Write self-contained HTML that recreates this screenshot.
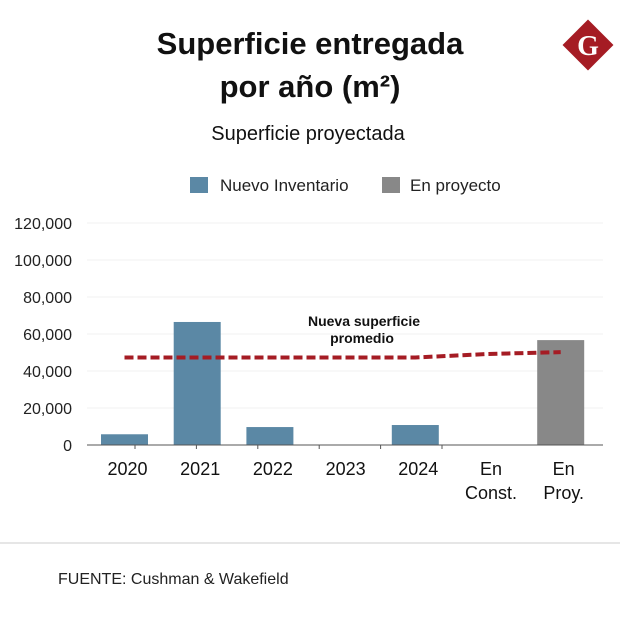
<!DOCTYPE html>
<html><head><meta charset="utf-8"><style>
body{margin:0;background:#fff;width:620px;height:616px;overflow:hidden;font-family:"Liberation Sans",sans-serif}
</style></head><body>
<svg width="620" height="616" viewBox="0 0 620 616">
<text x="310" y="54" text-anchor="middle" font-size="31" font-weight="bold" fill="#111">Superficie entregada</text>
<text x="310" y="97" text-anchor="middle" font-size="31" font-weight="bold" fill="#111">por año (m²)</text>
<g>
<rect x="570" y="27" width="36" height="36" fill="#a51c24" transform="rotate(45 588 45)"/>
<text x="588" y="55" text-anchor="middle" font-family="Liberation Serif,serif" font-weight="bold" font-size="28" fill="#fff">G</text>
</g>
<text x="308" y="140" text-anchor="middle" font-size="20" fill="#111">Superficie proyectada</text>
<rect x="190" y="177" width="18" height="16" fill="#5b88a5"/>
<text x="220" y="191" font-size="17" fill="#222">Nuevo Inventario</text>
<rect x="382" y="177" width="18" height="16" fill="#888"/>
<text x="410" y="191" font-size="17" fill="#222">En proyecto</text>
<g id="plot"></g>
<text x="364" y="326" text-anchor="middle" font-size="14" font-weight="bold" fill="#111">Nueva superficie</text>
<text x="362" y="343" text-anchor="middle" font-size="14" font-weight="bold" fill="#111">promedio</text>
<line x1="0" y1="543" x2="620" y2="543" stroke="#ccc"/>
<text x="58" y="584" font-size="16" fill="#222">FUENTE: Cushman &amp; Wakefield</text>
</svg>
<script>
const categories=["2020","2021","2022","2023","2024","En|Const.","En|Proy."];
const barValues=[5800,66500,9700,0,10800,0,56700];
const barKinds=["n","n","n","n","n","n","p"];
const avgValues=[47300,47300,47300,47300,47300,49200,50200];
const yTicks=[0,20000,40000,60000,80000,100000,120000];
const NS="http://www.w3.org/2000/svg";
const g=document.getElementById("plot");
const x0=87,x1=603,yBase=445,yTop=223,yMax=120000;
const bw=72.7, firstCenter=124.5;
const y=v=>yBase-(v/yMax)*(yBase-yTop);
const cx=i=>firstCenter+bw*i;
function mk(t,a){const e=document.createElementNS(NS,t);for(const k in a)e.setAttribute(k,a[k]);g.appendChild(e);return e;}
yTicks.forEach(v=>{
 if(v>0){const l=mk("line",{x1:x0,x2:x1,y1:y(v),y2:y(v),stroke:"#f0f0f0"});
 
 }
 const t=mk("text",{x:72,y:y(v)+6,"text-anchor":"end","font-size":"16",fill:"#222"});
 t.textContent=v.toLocaleString("en-US");
 
 
});
barValues.forEach((v,i)=>{
 if(v<=0)return;
 const r=mk("rect",{x:cx(i)-23.5,y:y(v),width:47,height:yBase-y(v),fill:barKinds[i]=="p"?"#888":"#5b88a5"});
 
 
});
const ax=mk("line",{x1:x0,x2:x1,y1:yBase,y2:yBase,stroke:"#555","stroke-width":1});


categories.forEach((c,i)=>{
 if(i>0){const tx=135+61.4*(i-1);const tk=mk("line",{x1:tx,x2:tx,y1:yBase,y2:yBase+4,stroke:"#555"});
 
 }
 c.split("|").forEach((p,j)=>{
  const t=mk("text",{x:cx(i)+3,y:475+j*24,"text-anchor":"middle","font-size":"18",fill:"#111"});
  t.textContent=p;
  
  
 });
});
const pts=avgValues.map((v,i)=>cx(i)+","+y(v)).join(" ");
const pl=mk("polyline",{points:pts,fill:"none",stroke:"#a51c24","stroke-width":4,"stroke-dasharray":"9,4"});


</script>
</body></html>
